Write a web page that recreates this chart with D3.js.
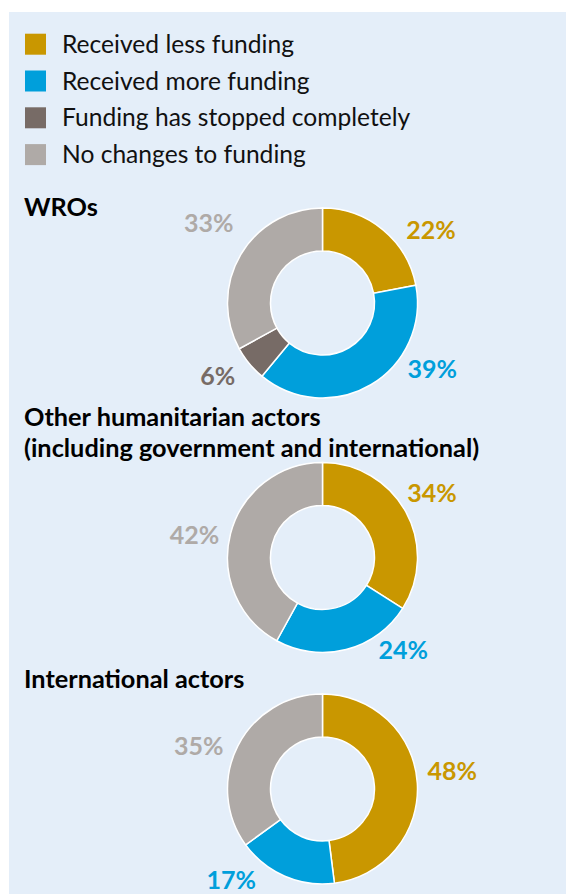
<!DOCTYPE html>
<html>
<head>
<meta charset="utf-8">
<script src="https://cdn.jsdelivr.net/npm/d3@7"></script>
<style>
  html, body { margin: 0; padding: 0; background: #fff; }
  svg { display: block; font-family: Lato, sans-serif; }
</style>
</head>
<body>
<div id="chart"></div>
<script>
"use strict";

// funding categories, legend order
const categories = [
  "Received less funding",
  "Received more funding",
  "Funding has stopped completely",
  "No changes to funding"
];
const colors = ["#c99700", "#009fdb", "#776b66", "#afaaa7"];

// one title (possibly two lines) per donut
const titles = [
  ["WROs"],
  ["Other humanitarian actors", "(including government and international)"],
  ["International actors"]
];

// percent per category, same order as categories
const wroValues = [22, 39, 6, 33];
const otherValues = [34, 24, 0, 42];
const internationalValues = [48, 17, 0, 35];

const seriesValues = [wroValues, otherValues, internationalValues];

// ---- layout ----
const width = 566;
const height = 894;
const outerR = 95;
const innerR = 52;
const cx = 322.5;
const centersY = [303, 557.5, 789];
const titleBaselines = [216, 426, 688];
const titleLineGap = 31;
// hand placed label spots around each ring: [angle in degrees, radius]
const labelSpots = [
  [[56, 131], [121, 128], [235, 128], [305, 139]],
  [[59.5, 127], [139, 123], null, [280, 130]],
  [[82, 131], [225, 129], null, [289, 131]]
];

const svg = d3.select("#chart")
  .append("svg")
  .attr("width", width)
  .attr("height", height);

svg.append("rect")
  .attr("x", 9)
  .attr("y", 12)
  .attr("width", width - 9)
  .attr("height", height - 12)
  .attr("fill", "#e4eef9");

// legend
const legendY = d3.scalePoint()
  .domain(categories)
  .range([44.2, 154.6]);

const legend = svg.append("g").attr("class", "legend");

legend.selectAll("rect")
  .data(categories)
  .enter()
  .append("rect")
  .attr("x", 25)
  .attr("y", d => legendY(d) - 10.5)
  .attr("width", 21)
  .attr("height", 21)
  .attr("fill", (d, i) => colors[i]);

legend.selectAll("text")
  .data(categories)
  .enter()
  .append("text")
  .attr("x", 62)
  .attr("y", d => legendY(d) + 8.6)
  .attr("font-size", 24.6)
  .attr("fill", "#111")
  .text(d => d);

// donuts
const pie = d3.pie()
  .sort(null)
  .value(d => d.value);

const arc = d3.arc()
  .innerRadius(innerR)
  .outerRadius(outerR);

const labelSize = 25;

seriesValues.forEach((values, k) => {
  const rows = values
    .map((v, i) => ({ value: v, index: i }))
    .filter(d => d.value > 0);

  // title, extra lines as tspans
  svg.append("text")
    .attr("x", 24)
    .attr("y", titleBaselines[k])
    .attr("font-size", 25.3)
    .attr("font-weight", 700)
    .attr("fill", "#000")
    .selectAll("tspan")
    .data(titles[k])
    .enter()
    .append("tspan")
    .attr("x", 24)
    .attr("dy", (d, i) => i === 0 ? 0 : titleLineGap)
    .text(d => d);

  const g = svg.append("g")
    .attr("transform", `translate(${cx}, ${centersY[k]})`);

  g.selectAll("path")
    .data(pie(rows))
    .enter()
    .append("path")
    .attr("d", arc)
    .attr("fill", d => colors[d.data.index])
    .attr("stroke", "#fff")
    .attr("stroke-width", 1.5);

  g.selectAll("text")
    .data(rows)
    .enter()
    .append("text")
    .attr("transform", d => {
      const spot = labelSpots[k][d.index];
      const p = d3.pointRadial(spot[0] * Math.PI / 180, spot[1]);
      return `translate(${p[0]}, ${p[1] + labelSize * 0.36})`;
    })
    .attr("text-anchor", "middle")
    .attr("font-size", labelSize)
    .attr("font-weight", 700)
    .attr("fill", d => colors[d.index])
    .text(d => `${d.value}%`);
});
</script>
</body>
</html>
